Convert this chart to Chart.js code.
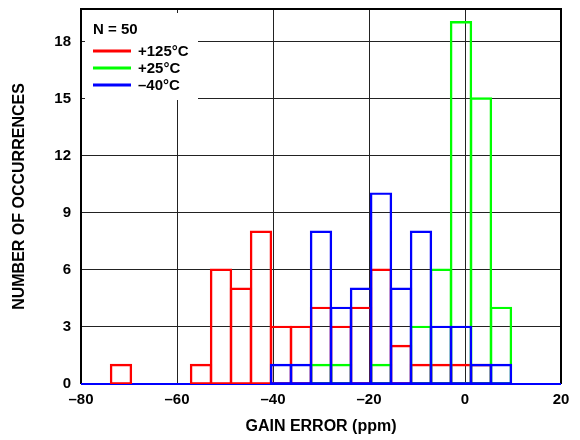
<!DOCTYPE html>
<html>
<head>
<meta charset="utf-8">
<script src="https://cdn.jsdelivr.net/npm/chart.js@4/dist/chart.umd.min.js"></script>
<style>
  body { margin: 0; background: #fff; }
  #box { width: 580px; height: 440px; }
</style>
</head>
<body>
<div id="box"><canvas id="grafico" width="580" height="440"></canvas></div>
<script>
// ========================
// DADOS
// ========================

// centro de cada faixa (ppm)
const faixas = [
  -71.67, -67.5, -63.33, -59.17, -55.0, -50.83, -46.67, -42.5, -38.33, -34.17,
  -30.0, -25.83, -21.67, -17.5, -13.33, -9.17, -5.0, -0.83, 3.33, 7.5,
];

const quente = [1, 0, 0, 0, 1, 6, 5, 8, 3, 3, 4, 3, 4, 6, 2, 1, 1, 1, 1, 0];
const ambiente = [0, 0, 0, 0, 0, 0, 0, 0, 0, 0, 1, 1, 0, 1, 0, 3, 6, 19, 15, 4];
const frio = [0, 0, 0, 0, 0, 0, 0, 0, 1, 1, 8, 4, 5, 10, 5, 8, 3, 3, 1, 1];

const rotulos = ["+125°C", "+25°C", "–40°C"];
const tituloLegenda = "N = 50";

const ticksY = [0, 3, 6, 9, 12, 15, 18];

const fonte = 'Arial, "Liberation Sans", sans-serif';

// ========================
// SERIES
// ========================

// borda quase nula + inflateAmount: contorno centrado na aresta da barra
function serie(label, valores, cor, ordem) {
  return {
    label: label,
    data: faixas.map((x, i) => ({ x: x, y: valores[i] })),
    backgroundColor: "rgba(0,0,0,0)",
    borderColor: cor,
    borderWidth: 0.02,
    inflateAmount: 1.2,
    borderSkipped: false,
    grouped: false,
    barPercentage: 1,
    categoryPercentage: 1,
    order: ordem,
  };
}

// ========================
// MOLDURA E LEGENDA
// ========================

const moldura = {
  id: "moldura",
  beforeDatasetsDraw(chart) {
    const { ctx, chartArea: a } = chart;
    ctx.save();
    ctx.strokeStyle = "#000";
    ctx.lineWidth = 2;
    ctx.beginPath();
    ctx.moveTo(a.left, a.bottom);
    ctx.lineTo(a.left, a.top);
    ctx.lineTo(a.right, a.top);
    ctx.lineTo(a.right, a.bottom);
    ctx.stroke();
    ctx.strokeStyle = "#0000ff";
    ctx.beginPath();
    ctx.moveTo(a.left, a.bottom);
    ctx.lineTo(a.right, a.bottom);
    ctx.stroke();
    ctx.restore();
  },
  afterDatasetsDraw(chart) {
    const { ctx, chartArea: a } = chart;
    const x0 = a.left + 4;
    const y0 = a.top + 4;
    ctx.save();
    ctx.fillStyle = "#fff";
    ctx.fillRect(x0, y0, 113, 87);
    ctx.font = "bold 15px " + fonte;
    ctx.fillStyle = "#000";
    ctx.textBaseline = "middle";
    ctx.fillText(tituloLegenda, x0 + 8, y0 + 17);
    chart.data.datasets.forEach((ds, i) => {
      const y = y0 + 38 + i * 17;
      ctx.strokeStyle = ds.borderColor;
      ctx.lineWidth = 3;
      ctx.beginPath();
      ctx.moveTo(x0 + 8, y);
      ctx.lineTo(x0 + 46, y);
      ctx.stroke();
      ctx.fillStyle = "#000";
      ctx.fillText(ds.label, x0 + 53, y + 1);
    });
    ctx.restore();
  },
};

// ========================
// GRAFICO
// ========================

new Chart(document.getElementById("grafico"), {
  type: "bar",
  data: {
    datasets: [
      serie(rotulos[0], quente, "#ff0000", 2),
      serie(rotulos[1], ambiente, "#00ff00", 1),
      serie(rotulos[2], frio, "#0000ff", 0),
    ],
  },
  options: {
    responsive: false,
    animation: false,
    layout: { padding: { left: 0, top: 9, right: 19, bottom: 0 } },
    datasets: { bar: { barPercentage: 1, categoryPercentage: 1 } },
    plugins: {
      legend: { display: false },
      tooltip: { enabled: false },
    },
    scales: {
      x: {
        type: "linear",
        min: -80,
        max: 20,
        offset: false,
        afterFit: (s) => {
          s.height = 56;
          s.paddingLeft = 0;
          s.paddingRight = 0;
        },
        grid: { offset: false, color: "#222", lineWidth: 1, drawTicks: false },
        border: { display: false },
        ticks: {
          stepSize: 20,
          padding: 7,
          color: "#000",
          font: { family: fonte, size: 15, weight: "bold" },
          callback: (v) => String(v).replace("-", "–"),
        },
        title: {
          display: true,
          text: "GAIN ERROR (ppm)",
          color: "#000",
          padding: { top: 0, bottom: 4 },
          font: { family: fonte, size: 16, weight: "bold" },
        },
      },
      y: {
        min: 0,
        max: 19.7,
        afterFit: (s) => {
          s.width = 81;
          s.paddingTop = 0;
          s.paddingBottom = 0;
        },
        afterBuildTicks: (s) => { s.ticks = ticksY.map((v) => ({ value: v })); },
        grid: { color: "#222", lineWidth: 1, drawTicks: false },
        border: { display: false },
        ticks: {
          padding: 10,
          color: "#000",
          font: { family: fonte, size: 15, weight: "bold" },
        },
        title: {
          display: true,
          text: "NUMBER OF OCCURRENCES",
          color: "#000",
          padding: { top: 10, bottom: 0 },
          font: { family: fonte, size: 16, weight: "bold" },
        },
      },
    },
  },
  plugins: [moldura],
});
</script>
</body>
</html>
